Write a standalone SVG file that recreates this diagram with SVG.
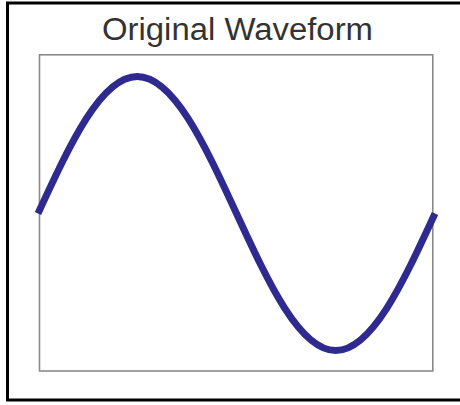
<svg xmlns="http://www.w3.org/2000/svg" width="460" height="405" viewBox="0 0 460 405">
<style>
.frame{fill:none;stroke:#000;stroke-width:3}
.plot{fill:#fff;stroke:#8a8a8a;stroke-width:1.6}
.wave{fill:none;stroke:#2f2a8f;stroke-width:7;stroke-linecap:butt}
.title{font-family:"Liberation Sans",Arial,sans-serif;font-size:31px;fill:#333;text-anchor:middle}
</style>
<rect width="460" height="405" fill="#fff"/>
<rect class="frame" x="7.5" y="3" width="460" height="397"/>
<text class="title" x="237.5" y="39.5" textLength="271" lengthAdjust="spacingAndGlyphs">Original Waveform</text>
<rect class="plot" x="39.5" y="54.8" width="393.3" height="316.2"/>
<path class="wave" d="M38,213.5 C70.37,143.32 101.33,76.5 137.25,76.5 C173.17,76.5 204.13,143.32 236.5,213.5 C268.87,283.68 299.83,350.5 335.75,350.5 C371.67,350.5 402.63,283.68 435,213.5"/>
</svg>
